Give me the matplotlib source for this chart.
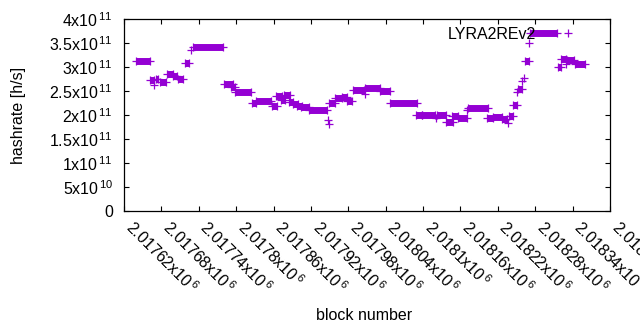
import numpy as np
import matplotlib
matplotlib.use("Agg")
import matplotlib.pyplot as plt
from matplotlib.lines import Line2D
from matplotlib.ticker import FuncFormatter

plt.rcParams["font.family"] = ["Liberation Sans", "DejaVu Sans"]
plt.rcParams["mathtext.fontset"] = "custom"
plt.rcParams["mathtext.rm"] = "Liberation Sans"
plt.rcParams["mathtext.it"] = "Liberation Sans"
plt.rcParams["mathtext.default"] = "regular"

PURPLE = "#9400d3"

# runs of blocks with a constant hashrate estimate: first block, last block, h/s
seg_start = [2017639, 2017662, 2017671, 2017678, 2017689, 2017699, 2017707, 2017718,
             2017731, 2017780, 2017792, 2017798, 2017825, 2017832, 2017858, 2017864,
             2017872, 2017877, 2017885, 2017891, 2017898, 2017904, 2017917, 2017949,
             2017959, 2017970, 2017978, 2017988, 2018007, 2018031, 2018047, 2018089,
             2018098, 2018122, 2018137, 2018146, 2018156, 2018172, 2018203, 2018212,
             2018227, 2018238, 2018244, 2018252, 2018264, 2018272, 2018317, 2018321,
             2018331, 2018344]
seg_end = [2017662, 2017668, 2017675, 2017687, 2017699, 2017705, 2017715, 2017724,
           2017779, 2017795, 2017798, 2017824, 2017832, 2017856, 2017866, 2017874,
           2017878, 2017886, 2017891, 2017899, 2017906, 2017917, 2017946, 2017959,
           2017970, 2017978, 2017986, 2018005, 2018031, 2018047, 2018090, 2018098,
           2018119, 2018137, 2018148, 2018156, 2018171, 2018204, 2018212, 2018227,
           2018235, 2018244, 2018251, 2018259, 2018270, 2018315, 2018321, 2018329,
           2018342, 2018360]
seg_val = [3.125e11, 2.73e11, 2.76e11, 2.68e11, 2.85e11, 2.82e11, 2.75e11, 3.08e11,
           3.41e11, 2.64e11, 2.58e11, 2.48e11, 2.25e11, 2.30e11, 2.18e11, 2.40e11,
           2.31e11, 2.41e11, 2.27e11, 2.22e11, 2.18e11, 2.16e11, 2.11e11, 2.24e11,
           2.36e11, 2.385e11, 2.30e11, 2.53e11, 2.57e11, 2.51e11, 2.24e11, 2.01e11,
           1.99e11, 2.01e11, 1.86e11, 1.97e11, 1.93e11, 2.14e11, 1.93e11, 1.95e11,
           1.92e11, 1.98e11, 2.21e11, 2.55e11, 3.125e11, 3.70e11, 3.01e11, 3.16e11,
           3.15e11, 3.07e11]

# isolated blocks
pt_x = [2017668, 2017728, 2017947, 2017949, 2018007, 2018121, 2018171, 2018236,
        2018251, 2018259, 2018262, 2018270, 2018329]
pt_y = [2.625e11, 3.35e11, 1.89e11, 1.81e11, 2.44e11, 1.94e11, 2.10e11, 1.83e11,
        2.48e11, 2.71e11, 2.77e11, 3.50e11, 3.06e11]

xticks = np.arange(2017620, 2018401, 60)
yticks = np.arange(0, 4.01e11, 5e10)


def sci_label(v, pos=None):
    if v == 0:
        return "0"
    e = int(np.floor(np.log10(abs(v)) + 1e-9))
    m = round(v / 10 ** e, 6)
    return f"$\\mathregular{{{m:g}x10}}^{{\\,{e}}}$"


fig = plt.figure(figsize=(6.4, 3.3), dpi=100)
ax = fig.add_axes([124 / 640, 1 - 211 / 330, 486 / 640, 192 / 330])

ax.hlines(seg_val, seg_start, seg_end, color=PURPLE, lw=5.0, capstyle="butt")
ends_x = seg_start + seg_end
ends_y = seg_val + seg_val
ax.plot(ends_x, ends_y, "+", color=PURPLE, ms=5.2, mew=0.9)
ax.plot(pt_x, pt_y, "+", color=PURPLE, ms=5.2, mew=0.9)

ax.set_xlim(xticks[0], xticks[-1])
ax.set_ylim(0, 4e11)
ax.set_xticks(xticks)
ax.set_yticks(yticks)
ax.xaxis.set_major_formatter(FuncFormatter(sci_label))
ax.yaxis.set_major_formatter(FuncFormatter(sci_label))
ax.tick_params(direction="in", length=3.5, width=0.8, top=True, right=True,
               labelsize=11.5, colors="black")
ax.tick_params(axis="y", pad=8)
ax.tick_params(axis="x", pad=13)
for lab in ax.get_xticklabels():
    lab.set_rotation(-45)
    lab.set_ha("left")
    lab.set_va("baseline")
    lab.set_rotation_mode("anchor")
for s in ax.spines.values():
    s.set_linewidth(0.9)

ax.set_xlabel("block number", fontsize=11.5)
ax.xaxis.set_label_coords(0.494, -(308 - 211) / 192)
ax.set_ylabel("hashrate [h/s]", fontsize=11.5)
ax.yaxis.set_label_coords(-(124 - 26) / 486, 0.5)

handle = Line2D([], [], ls="none", marker="+", color=PURPLE, ms=5.2, mew=0.9)
ax.legend([handle], ["LYRA2REv2"], loc="upper right", frameon=False,
          markerfirst=False, fontsize=11.5, handlelength=2.8, handletextpad=0.6,
          borderpad=0, borderaxespad=0,
          bbox_to_anchor=((590 - 124) / 486, (211 - 27) / 192))

fig.savefig("out.png", dpi=100)
